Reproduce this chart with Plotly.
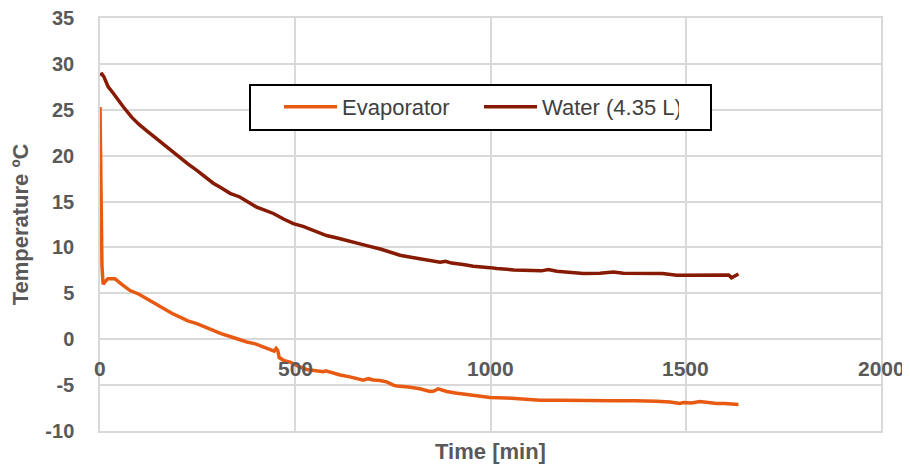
import plotly.graph_objects as go

# Evaporator temperature (°C) vs time (min)
evap_t = [0, 2, 5, 8, 12, 20, 30, 38, 55, 77, 100, 120, 140, 162, 185, 205, 225, 248, 270, 290,
          310, 333, 355, 376, 398, 418, 435, 446, 451, 455, 459, 470, 487, 510, 529, 550, 572, 578,
          595, 615, 640, 660, 674, 687, 700, 717, 734, 751, 760, 790, 819, 845, 855, 866, 888, 910,
          939, 970, 999, 1040, 1075, 1100, 1127, 1180, 1229, 1270, 1314, 1370, 1408, 1425, 1460,
          1485, 1494, 1515, 1536, 1560, 1579, 1600, 1620, 1635]
evap_T = [25.3, 20.0, 8.0, 6.0, 6.2, 6.6, 6.6, 6.6, 6.0, 5.3, 4.9, 4.4, 3.9, 3.3, 2.8, 2.4, 2.0, 1.7,
          1.3, 1.0, 0.6, 0.3, 0.0, -0.3, -0.5, -0.8, -1.1, -1.3, -1.0, -1.2, -2.0, -2.3, -2.5, -3.0,
          -3.3, -3.45, -3.55, -3.45, -3.7, -3.9, -4.1, -4.3, -4.47, -4.3, -4.45, -4.5, -4.65, -5.0,
          -5.1, -5.2, -5.4, -5.7, -5.65, -5.4, -5.7, -5.85, -6.0, -6.2, -6.35, -6.4, -6.5, -6.55,
          -6.65, -6.65, -6.7, -6.7, -6.7, -6.7, -6.7, -6.75, -6.85, -7.0, -6.9, -6.95, -6.8, -6.95,
          -7.0, -7.0, -7.05, -7.1]

# Water (4.35 L) temperature (°C) vs time (min)
water_t = [0, 5, 10, 21, 34, 47, 60, 81, 100, 120, 140, 162, 185, 205, 225, 248, 270, 290, 310, 333,
           358, 380, 401, 420, 444, 470, 495, 520, 540, 580, 610, 640, 683, 720, 768, 800, 830, 871,
           885, 900, 930, 956, 999, 1016, 1060, 1101, 1130, 1148, 1170, 1200, 1238, 1280, 1315,
           1340, 1370, 1408, 1440, 1477, 1520, 1560, 1596, 1610, 1617, 1628, 1635]
water_T = [28.8, 28.9, 28.6, 27.5, 26.8, 26.0, 25.3, 24.2, 23.4, 22.7, 22.0, 21.3, 20.5, 19.8, 19.1,
           18.4, 17.7, 17.0, 16.5, 15.9, 15.5, 14.9, 14.4, 14.1, 13.7, 13.1, 12.6, 12.3, 12.0, 11.3,
           11.0, 10.7, 10.2, 9.8, 9.15, 8.9, 8.7, 8.4, 8.5, 8.3, 8.15, 7.95, 7.8, 7.7, 7.55, 7.45,
           7.45, 7.6, 7.4, 7.3, 7.15, 7.2, 7.33, 7.2, 7.2, 7.15, 7.15, 6.97, 7.0, 7.0, 6.97, 7.0,
           6.7, 6.9, 7.1]

x_ticks = [0, 500, 1000, 1500, 2000]
x_tick_labels = ["0", "500", "1000", "1500", "2000"]
y_ticks = [-10, -5, 0, 5, 10, 15, 20, 25, 30, 35]
y_tick_labels = ["-10", "-5", "0", "5", "10", "15", "20", "25", "30", "35"]

GRID = "#d9d9d9"
TICKCOL = "#595959"
FONT = "Liberation Sans, Arial, sans-serif"

# page offset of the plot div (browser default body margin)
OFF = 8
# plot area in page pixels
L, R, T, B = 100, 881, 18, 431
W, H = 910 - OFF, 470 - OFF


def px(xp):
    return (xp - L) / (R - L)


def py(yp):
    return 1 - (yp - T) / (B - T)


fig = go.Figure()
fig.add_trace(go.Scatter(x=evap_t, y=evap_T, mode="lines", name="Evaporator",
                         line=dict(color="#E85A12", width=3.5)))
fig.add_trace(go.Scatter(x=water_t, y=water_T, mode="lines", name="Water (4.35 L)",
                         line=dict(color="#861A02", width=3.5)))

for xv, lab in zip(x_ticks, x_tick_labels):
    fig.add_annotation(x=xv, y=0, xref="x", yref="y", text="<b>%s</b>" % lab, showarrow=False,
                       yanchor="middle", xanchor="center", yshift=-29,
                       font=dict(family=FONT, size=21, color=TICKCOL))

# legend frame
fig.add_shape(type="rect", xref="paper", yref="paper",
              x0=px(250), x1=px(711), y0=py(130), y1=py(85),
              line=dict(color="black", width=2), fillcolor="white", layer="above")

fig.update_layout(
    width=W, height=H,
    margin=dict(l=L - OFF, r=W + OFF - R, t=T - OFF, b=H + OFF - B, autoexpand=False),
    paper_bgcolor="white", plot_bgcolor="white",
    font=dict(family=FONT, color=TICKCOL),
    showlegend=True,
    legend=dict(orientation="h", x=px(279), y=py(86),
                xanchor="left", yanchor="top", bgcolor="rgba(0,0,0,0)",
                borderwidth=0, itemwidth=53,
                font=dict(family=FONT, size=22, color="#404040"),
                entrywidth=132, entrywidthmode="pixels"),
    xaxis=dict(range=[0, 2000], tickvals=x_ticks, showticklabels=False, automargin=False,
               showgrid=True, gridcolor=GRID, gridwidth=1.5, zeroline=False,
               showline=True, linecolor=GRID, linewidth=1.5, mirror=True,
               title=dict(text="<b>Time [min]</b>", font=dict(family=FONT, size=22, color=TICKCOL),
                          standoff=12)),
    yaxis=dict(range=[-10, 35], tickvals=y_ticks, ticktext=["<b>%s</b>" % s for s in y_tick_labels],
               automargin=False, ticklabeloverflow="allow",
               showgrid=True, gridcolor=GRID, gridwidth=1.5,
               zeroline=True, zerolinecolor=GRID, zerolinewidth=1.5,
               showline=True, linecolor=GRID, linewidth=1.5, mirror=True,
               tickfont=dict(family=FONT, size=20, color=TICKCOL),
               ticks="outside", ticklen=20, tickcolor="rgba(0,0,0,0)",
               title=dict(text="<b>Temperature ºC</b>", font=dict(family=FONT, size=22, color=TICKCOL),
                          standoff=13)),
)

fig.write_html("out.html")
